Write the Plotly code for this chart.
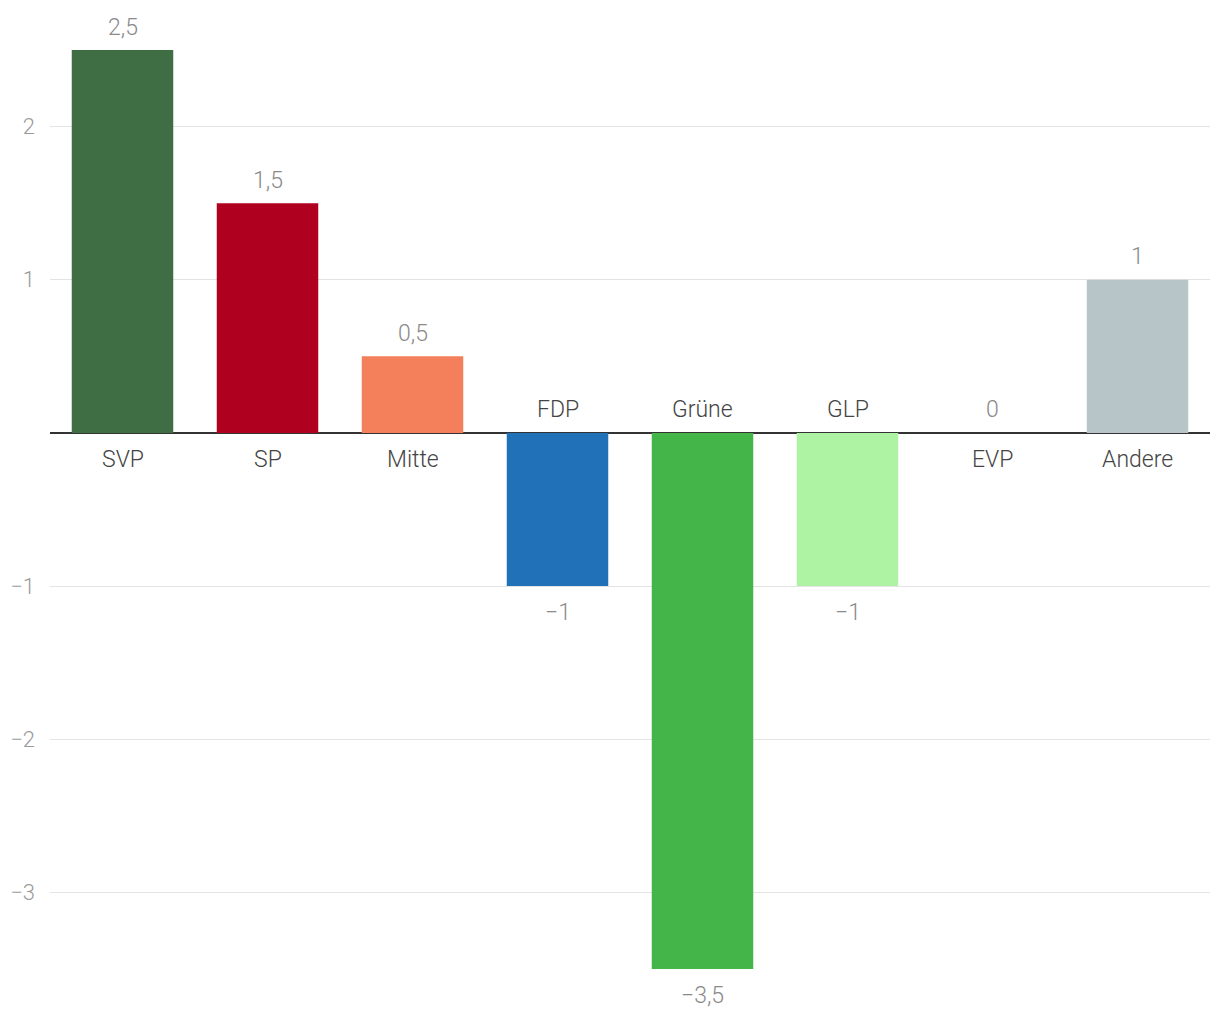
import plotly.graph_objects as go

parties = ["SVP", "SP", "Mitte", "FDP", "Grüne", "GLP", "EVP", "Andere"]
values = [2.5, 1.5, 0.5, -1, -3.5, -1, 0, 1]
colors = ["#3f6e44", "#b0001f", "#f47f5b", "#2171b8", "#43b549", "#aef2a4", "#f2c94c", "#b7c5c9"]
tick_vals = [-3, -2, -1, 0, 1, 2]
tick_text = ["\u22123", "\u22122", "\u22121", "", "1", "2"]

FONT = "Roboto"

def fmt(v):
    s = ("%g" % abs(v)).replace(".", ",")
    return ("\u2212" + s) if v < 0 else s

fig = go.Figure()
fig.add_trace(go.Bar(
    x=parties, y=values, marker_color=colors, marker_line_width=0,
    width=0.7, hoverinfo="skip", cliponaxis=False,
))

annotations = []
for p, v in zip(parties, values):
    # value label
    annotations.append(dict(
        x=p, y=v, xref="x", yref="y", text=fmt(v), showarrow=False,
        yshift=23 if v >= 0 else -26,
        font=dict(family=FONT, size=23, color="#8a8a8a", weight=300),
    ))
    # category label
    annotations.append(dict(
        x=p, y=0, xref="x", yref="y", text=p, showarrow=False,
        yshift=-27 if v >= 0 else 23,
        font=dict(family=FONT, size=23, color="#444444", weight=300),
    ))

fig.update_layout(
    width=1220, height=1020,
    margin=dict(l=42, r=18, t=42, b=59),
    paper_bgcolor="white", plot_bgcolor="white",
    showlegend=False,
    bargap=0.3,
    xaxis=dict(showticklabels=False, showgrid=False, zeroline=False, showline=False,
               ticks="", automargin=False),
    yaxis=dict(
        range=[-3.5, 2.5], tickvals=tick_vals, ticktext=tick_text,
        showgrid=True, gridcolor="#e3e3e3", gridwidth=1,
        zeroline=True, zerolinecolor="#333333", zerolinewidth=2,
        showline=False, ticks="", ticklabelstandoff=14, automargin=False,
        tickfont=dict(family=FONT, size=22, color="#9a9a9a", weight=300),
    ),
    annotations=annotations,
)

fig.write_html("out.html")
